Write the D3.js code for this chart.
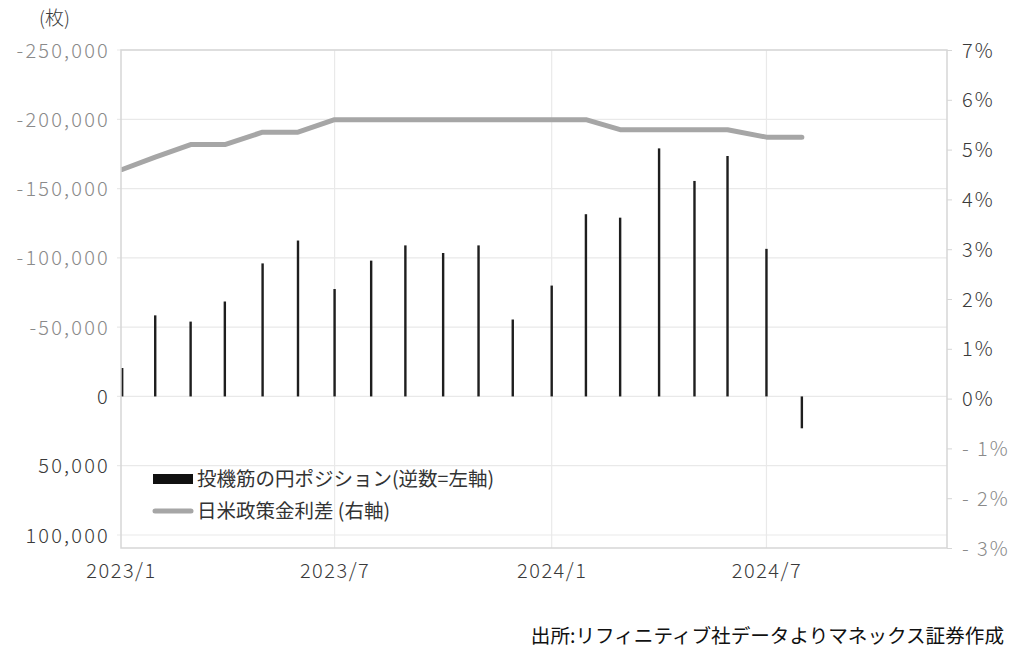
<!DOCTYPE html>
<html><head><meta charset="utf-8">
<script src="https://cdn.jsdelivr.net/npm/d3@7"></script>
<style>
body{margin:0;background:#fff;}
svg{display:block;font-family:"Noto Sans CJK JP","Noto Sans",sans-serif;}
</style>
</head><body>
<svg id="chart" width="1028" height="663"></svg>
<script>
// ---- data ----
const dates = ["2023-01-02","2023-01-30","2023-03-01","2023-03-30","2023-05-01","2023-05-31",
  "2023-07-01","2023-08-01","2023-08-30","2023-10-01","2023-10-31","2023-11-29",
  "2024-01-01","2024-01-30","2024-02-28","2024-04-01","2024-05-01","2024-05-29",
  "2024-07-01","2024-07-31"];
const yenPosition = [-20500,-58500,-54000,-68500,-96000,-112500,
  -77500,-98000,-109000,-103500,-109000,-55500,
  -80000,-131500,-129000,-179000,-155500,-173500,
  -106500,23000];
const rateDiff = [4.6,4.85,5.1,5.1,5.35,5.35,
  5.6,5.6,5.6,5.6,5.6,5.6,
  5.6,5.6,5.4,5.4,5.4,5.4,
  5.25,5.25];
const leftTicks = [-250000,-200000,-150000,-100000,-50000,0,50000,100000];
const leftTickLabels = ["-250,000","-200,000","-150,000","-100,000","-50,000","0","50,000","100,000"];
const rightTicks = [7,6,5,4,3,2,1,0,-1,-2,-3];
const rightTickLabels = ["7%","6%","5%","4%","3%","2%","1%","0%","- 1%","- 2%","- 3%"];
const xTicks = ["2023-01-01","2023-07-01","2024-01-01","2024-07-01"];
const xTickLabels = ["2023/1","2023/7","2024/1","2024/7"];
const xDomain = ["2023-01-01","2024-12-01"];
const legendLabels = ["投機筋の円ポジション(逆数=左軸)","日米政策金利差 (右軸)"];
const unitLabel = "(枚)";
const sourceLabel = "出所:リフィニティブ社データよりマネックス証券作成";

// ---- layout ----
const L = 121, R = 947, T = 50, B = 548;
const parse = d3.utcParse("%Y-%m-%d");
const svg = d3.select("#chart");

const x = d3.scaleUtc().domain(xDomain.map(parse)).range([L, R]);
const yL = d3.scaleLinear().domain([-250000, 100000]).range([T, 535]);
const yR = d3.scaleLinear().domain([7, -3]).range([T, B]);

const gridColor = "#e9e9e9", borderColor = "#d6d6d6";
const dark = "#3a3a3a", light = "#8a8a8a";

// clip
svg.append("defs").append("clipPath").attr("id","plotclip")
  .append("rect").attr("x", L).attr("y", T).attr("width", R-L).attr("height", B-T);

// horizontal gridlines (left axis)
svg.append("g").selectAll("line").data(leftTicks).join("line")
  .attr("x1", L-4).attr("x2", R).attr("y1", d=>yL(d)).attr("y2", d=>yL(d))
  .attr("stroke", gridColor).attr("stroke-width", 1.2);
// vertical gridlines
svg.append("g").selectAll("line").data(xTicks.slice(1)).join("line")
  .attr("x1", d=>x(parse(d))).attr("x2", d=>x(parse(d))).attr("y1", T).attr("y2", B)
  .attr("stroke", gridColor).attr("stroke-width", 1.2);

// bars
const data = dates.map((d,i)=>({date: parse(d), pos: yenPosition[i], rate: rateDiff[i]}));
const plot = svg.append("g").attr("clip-path","url(#plotclip)");
plot.selectAll("rect.bar").data(data).join("rect").attr("class","bar")
  .attr("x", d=>x(d.date)-1.2).attr("width", 2.4)
  .attr("y", d=>Math.min(yL(d.pos), yL(0)))
  .attr("height", d=>Math.abs(yL(d.pos)-yL(0)))
  .attr("fill", "#1e1e1e");

// line
plot.append("path").datum(data)
  .attr("d", d3.line().x(d=>x(d.date)).y(d=>yR(d.rate)))
  .attr("fill","none").attr("stroke","#a6a6a6").attr("stroke-width",5)
  .attr("stroke-linejoin","round").attr("stroke-linecap","round");

// border
svg.append("rect").attr("x", L).attr("y", T).attr("width", R-L).attr("height", B-T)
  .attr("fill","none").attr("stroke", borderColor).attr("stroke-width", 1.5);

// left axis
const axL = d3.axisLeft(yL).tickValues(leftTicks).tickSize(0).tickPadding(11)
  .tickFormat((d,i)=>leftTickLabels[i]);
const gL = svg.append("g").attr("transform", `translate(${L},0)`).call(axL);
gL.select(".domain").remove();
gL.selectAll("text").attr("font-size", 20).attr("letter-spacing", "2.2px")
  .attr("font-family", "'Noto Sans CJK JP', sans-serif").attr("font-weight", 300)
  .attr("fill", d=> d<0 ? light : dark).attr("dy","0.35em");

// right axis
const axR = d3.axisRight(yR).tickValues(rightTicks).tickSize(5).tickPadding(10)
  .tickFormat((d,i)=>rightTickLabels[i]);
const gR = svg.append("g").attr("transform", `translate(${R},0)`).call(axR);
gR.select(".domain").remove();
gR.selectAll("line").attr("stroke", borderColor);
gR.selectAll("text").attr("font-size", 20).attr("letter-spacing", "2px")
  .attr("font-family", "'Noto Sans CJK JP', sans-serif").attr("font-weight", 300)
  .attr("fill", d=> d<0 ? light : dark).attr("dy","0.35em");

// x axis
const axX = d3.axisBottom(x).tickValues(xTicks.map(parse)).tickSize(0).tickPadding(16)
  .tickFormat((d,i)=>xTickLabels[i]);
const gX = svg.append("g").attr("transform", `translate(0,${B})`).call(axX);
gX.select(".domain").remove();
gX.selectAll("text").attr("font-size", 20).attr("letter-spacing", "1.5px")
  .attr("font-family", "'Noto Sans CJK JP', sans-serif").attr("font-weight", 300)
  .attr("fill", dark);

// unit label
svg.append("text").attr("x", 39).attr("y", 25).text(unitLabel)
  .attr("font-size", 19).attr("fill", dark).attr("font-weight", 300);

// legend
const lg = svg.append("g");
lg.append("rect").attr("x",153).attr("y",474).attr("width",40).attr("height",10).attr("fill","#111");
lg.append("text").attr("x",197).attr("y",479).attr("dy","0.35em").text(legendLabels[0])
  .attr("font-size",19.5).attr("fill","#333");
lg.append("line").attr("x1",155).attr("x2",191).attr("y1",511).attr("y2",511)
  .attr("stroke","#a6a6a6").attr("stroke-width",5).attr("stroke-linecap","round");
lg.append("text").attr("x",197).attr("y",511).attr("dy","0.35em").text(legendLabels[1])
  .attr("font-size",19.5).attr("fill","#333");

// source
svg.append("text").attr("x",1004).attr("y",636).attr("dy","0.35em").attr("text-anchor","end")
  .text(sourceLabel).attr("font-size",19.6).attr("fill","#111");
</script>
</body></html>
